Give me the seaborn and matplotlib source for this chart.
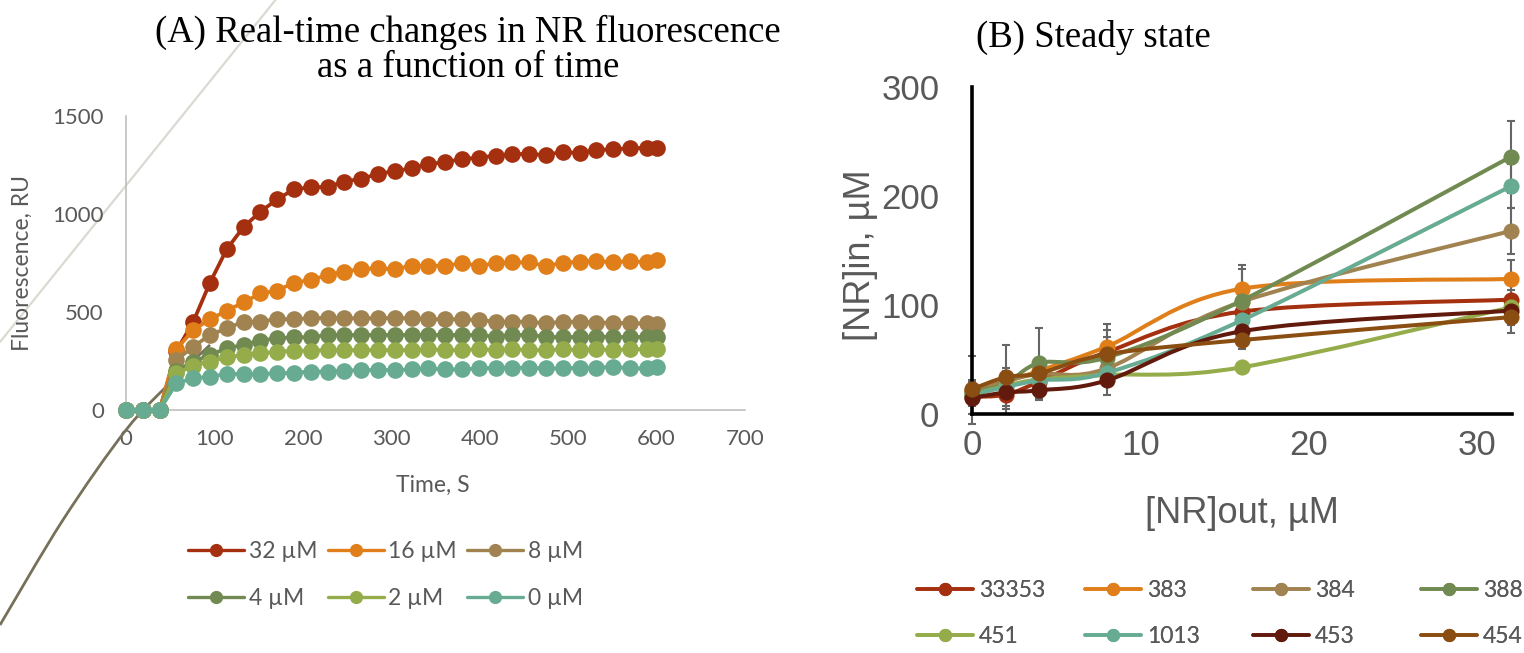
import numpy as np
import pandas as pd
import matplotlib
matplotlib.use("Agg")
import matplotlib.pyplot as plt
import seaborn as sns
from matplotlib.path import Path
from matplotlib.patches import PathPatch
from matplotlib.lines import Line2D

# ---------------- Panel A data ----------------
times = [0, 19, 38, 57, 76, 95, 114, 133, 152, 171, 190, 209, 228, 247, 266, 285, 304,
         323, 342, 361, 380, 399, 418, 437, 456, 475, 494, 513, 532, 551, 570, 589, 600]
conc_labels = ["32 µM", "16 µM", "8 µM", "4 µM", "2 µM", "0 µM"]
fl_32 = [0, 0, 0, 300, 450, 650, 821, 934, 1012, 1075, 1126, 1136, 1139, 1165, 1180, 1204, 1219,
         1233, 1255, 1264, 1281, 1287, 1298, 1306, 1306, 1301, 1318, 1310, 1327, 1330, 1335, 1338, 1338]
fl_16 = [0, 0, 0, 310, 408, 463, 507, 549, 595, 609, 650, 663, 689, 706, 719, 723, 718,
         736, 736, 736, 748, 736, 748, 753, 753, 735, 751, 757, 761, 753, 761, 753, 765]
fl_8 = [0, 0, 0, 255, 323, 383, 417, 451, 451, 464, 464, 468, 471, 468, 468, 468, 470,
        468, 463, 463, 463, 459, 451, 451, 451, 442, 451, 451, 446, 446, 442, 442, 437]
fl_4 = [0, 0, 0, 200, 247, 281, 315, 332, 354, 366, 371, 371, 383, 383, 383, 383, 383,
        383, 383, 383, 383, 383, 374, 383, 383, 374, 371, 374, 374, 374, 371, 374, 371]
fl_2 = [0, 0, 0, 187, 226, 247, 269, 281, 289, 298, 303, 303, 306, 306, 306, 306, 306,
        306, 310, 306, 306, 310, 306, 310, 306, 306, 310, 306, 310, 306, 310, 310, 310]
fl_0 = [0, 0, 0, 136, 162, 170, 184, 184, 184, 187, 190, 196, 196, 201, 204, 204, 204,
        207, 212, 207, 207, 212, 216, 216, 216, 212, 212, 216, 216, 221, 212, 212, 221]
colors_A = ["#A5300F", "#E07F1A", "#A08350", "#718A52", "#94AC4A", "#67AC92"]

# stray trendline artefacts visible in panel A (time, fluorescence units)
trend_curve_t = [-142.5, -71.3, 0, 49.8, 95]
trend_curve_v = [-1097, -561, -102, 138, 332]
trend_line_t = [-142.5, 169]
trend_line_v = [347, 2092]

# ---------------- Panel B data ----------------
nr_out = [0, 2, 4, 8, 16, 32]
strain_labels = ["33353", "383", "384", "388", "451", "1013", "453", "454"]
nr_in_33353 = [16, 18, 30, 57, 94, 105]
nr_in_383 = [22, 30, 40, 62, 115, 124]
nr_in_384 = [20, 30, 37, 42, 103, 168]
nr_in_388 = [20, 28, 47, 52, 104, 236]
nr_in_451 = [18, 26, 32, 36, 43, 98]
nr_in_1013 = [18, 25, 31, 38, 86, 209]
nr_in_453 = [15, 20, 22, 31, 76, 95]
nr_in_454 = [23, 34, 37.5, 55, 68, 89]
err_33353 = [8, 10, 10, 13.5, 8, 9]
err_383 = [31, 12, 10, 21, 22, 17]
err_384 = [5, 8, 8, 10, 10, 21]
err_388 = [8, 10, 32, 10, 29, 33]
err_451 = [5, 5, 5, 5, 5, 8]
err_1013 = [5, 6, 6, 8, 8, 20]
err_453 = [15, 20, 9, 13, 8, 13]
err_454 = [8, 29.5, 8, 22, 8, 15]
colors_B = ["#A5300F", "#E07F1A", "#A08350", "#718A52", "#94AC4A", "#67AC92", "#611A0C", "#8B4E12"]

GRAY = "#595959"

sns.set_theme(style="white")
plt.rcParams["font.family"] = ["Lato", "DejaVu Sans"]

W, H = 1524, 653
fig = plt.figure(figsize=(W / 100, H / 100), dpi=100)
axA = fig.add_axes([126 / W, 1 - 410 / H, (745 - 126) / W, (410 - 116) / H])
axB = fig.add_axes([972 / W, 1 - 414.3 / H, (1512 - 972) / W, (414.3 - 86.7) / H])


def smooth_path(xs, ys):
    pts = np.column_stack([np.asarray(xs, float), np.asarray(ys, float)])
    n = len(pts)
    verts = [pts[0]]
    codes = [Path.MOVETO]
    for i in range(n - 1):
        p0 = pts[i - 1] if i > 0 else pts[i]
        p1 = pts[i]
        p2 = pts[i + 1]
        p3 = pts[i + 2] if i + 2 < n else pts[i + 1]
        c1 = p1 + (p2 - p0) / 6.0
        c2 = p2 - (p3 - p1) / 6.0
        verts += [c1, c2, p2]
        codes += [Path.CURVE4] * 3
    return Path(verts, codes)


# ---------------- Panel A ----------------
seriesA = [fl_32, fl_16, fl_8, fl_4, fl_2, fl_0]
dfA = pd.DataFrame({
    "Time": times * len(seriesA),
    "Fluor": sum(seriesA, []),
    "Conc": sum([[lab] * len(times) for lab in conc_labels], []),
})
palA = dict(zip(conc_labels, colors_A))

# artefact lines (behind data)
axA.add_patch(PathPatch(smooth_path(trend_curve_t, trend_curve_v), fill=False,
                        edgecolor="#77705A", lw=2.0, clip_on=False, zorder=1))
axA.plot(trend_line_t, trend_line_v, color="#DADAD2", lw=1.6, clip_on=False, zorder=0.5)

sns.lineplot(data=dfA, x="Time", y="Fluor", hue="Conc", hue_order=conc_labels,
             palette=palA, marker="o", markersize=12, markeredgewidth=0,
             linewidth=2.7, sort=False, estimator=None, legend=False, ax=axA,
             clip_on=False, zorder=3)

axA.set_xlim(0, 700)
axA.set_ylim(0, 1500)
axA.set_xticks(range(0, 701, 100))
axA.set_yticks([0, 500, 1000, 1500])
for s in ["top", "right"]:
    axA.spines[s].set_visible(False)
for s in ["left", "bottom"]:
    axA.spines[s].set_color("#BFBFBF")
    axA.spines[s].set_linewidth(1.2)
axA.tick_params(axis="both", length=0, labelsize=16, colors=GRAY)
axA.tick_params(axis="y", pad=16)
axA.tick_params(axis="x", pad=14)
axA.set_xlabel("Time, S", fontsize=16.5, color=GRAY)
axA.set_ylabel("Fluorescence, RU", fontsize=16.5, color=GRAY)
axA.xaxis.set_label_coords(0.496, -0.22)
axA.yaxis.set_label_coords(-0.150, 0.5)

handlesA = [Line2D([], [], color=c, marker="o", markersize=9.5, lw=2.4, markeredgewidth=0)
            for c in colors_A]
orderA = [0, 3, 1, 4, 2, 5]
fig.legend([handlesA[i] for i in orderA], [conc_labels[i] for i in orderA],
           loc="center", bbox_to_anchor=(0.253, 1 - 575 / H), ncol=3, frameon=False,
           fontsize=16.5, labelcolor=GRAY, handlelength=2.45, handletextpad=0.2,
           columnspacing=0.45, labelspacing=1.1, borderpad=0)

fig.text(0.307, 1 - 15 / H, "(A) Real-time changes in NR fluorescence\nas a function of time",
         ha="center", va="top", fontsize=26.5, family="Liberation Serif", linespacing=1.0,
         color="black")

# ---------------- Panel B ----------------
seriesB = [nr_in_33353, nr_in_383, nr_in_384, nr_in_388, nr_in_451, nr_in_1013, nr_in_453, nr_in_454]
errorsB = [err_33353, err_383, err_384, err_388, err_451, err_1013, err_453, err_454]
palB = dict(zip(strain_labels, colors_B))
dfB = pd.DataFrame({
    "out": nr_out * len(seriesB),
    "in": sum(seriesB, []),
    "strain": sum([[lab] * len(nr_out) for lab in strain_labels], []),
})

for ys, es in zip(seriesB, errorsB):
    axB.errorbar(nr_out, ys, yerr=es, fmt="none", ecolor="#666666", elinewidth=1.5,
                 capsize=3.2, capthick=1.5, zorder=1.5, clip_on=False)

for k, (lab, ys) in enumerate(zip(strain_labels, seriesB)):
    axB.add_patch(PathPatch(smooth_path(nr_out, ys), fill=False, edgecolor=palB[lab],
                            lw=2.9, capstyle="round", joinstyle="round",
                            zorder=2 + k * 0.1, clip_on=False))
    sub = dfB[dfB["strain"] == lab]
    sns.scatterplot(data=sub, x="out", y="in", color=palB[lab], s=135, linewidth=0,
                    legend=False, ax=axB, zorder=2.05 + k * 0.1, clip_on=False)

axB.set_xlim(0, 32.05)
axB.set_ylim(0, 300)
axB.set_xticks([0, 10, 20, 30])
axB.set_yticks([0, 100, 200, 300])
for s in ["top", "right"]:
    axB.spines[s].set_visible(False)
for s in ["left", "bottom"]:
    axB.spines[s].set_color("black")
    axB.spines[s].set_linewidth(2.6)
axB.tick_params(axis="both", direction="out", width=2.6, color="black",
                labelsize=25, labelcolor=GRAY, labelfontfamily="Liberation Sans")
axB.tick_params(axis="y", length=8.5, pad=15)
axB.tick_params(axis="x", length=7.5, pad=3)
axB.set_xlabel("[NR]out, µM", fontsize=26, color=GRAY, family="Liberation Sans")
axB.set_ylabel("[NR]in, µM", fontsize=26, color=GRAY, family="Liberation Sans")
axB.xaxis.set_label_coords(0.5, -0.25)
axB.yaxis.set_label_coords(-0.175, 0.486)

fig.text(976 / W, 1 - 37 / H, "(B) Steady state", ha="left", va="center", fontsize=26.5,
         family="Liberation Serif", color="black")

handlesB = [Line2D([], [], color=c, marker="o", markersize=9.5, lw=2.6, markeredgewidth=0)
            for c in colors_B]
col_x = [917, 1085, 1253, 1421]
for j, x0 in enumerate(col_x):
    leg = fig.legend([handlesB[j], handlesB[j + 4]], [strain_labels[j], strain_labels[j + 4]],
                     loc="center left", bbox_to_anchor=(x0 / W, 1 - 613.5 / H), ncol=1,
                     frameon=False, fontsize=16.5, labelcolor=GRAY, handlelength=2.45,
                     handletextpad=0.25, labelspacing=1.1, borderpad=0, borderaxespad=0)
    fig.add_artist(leg)

fig.savefig("out.png", dpi=100)
